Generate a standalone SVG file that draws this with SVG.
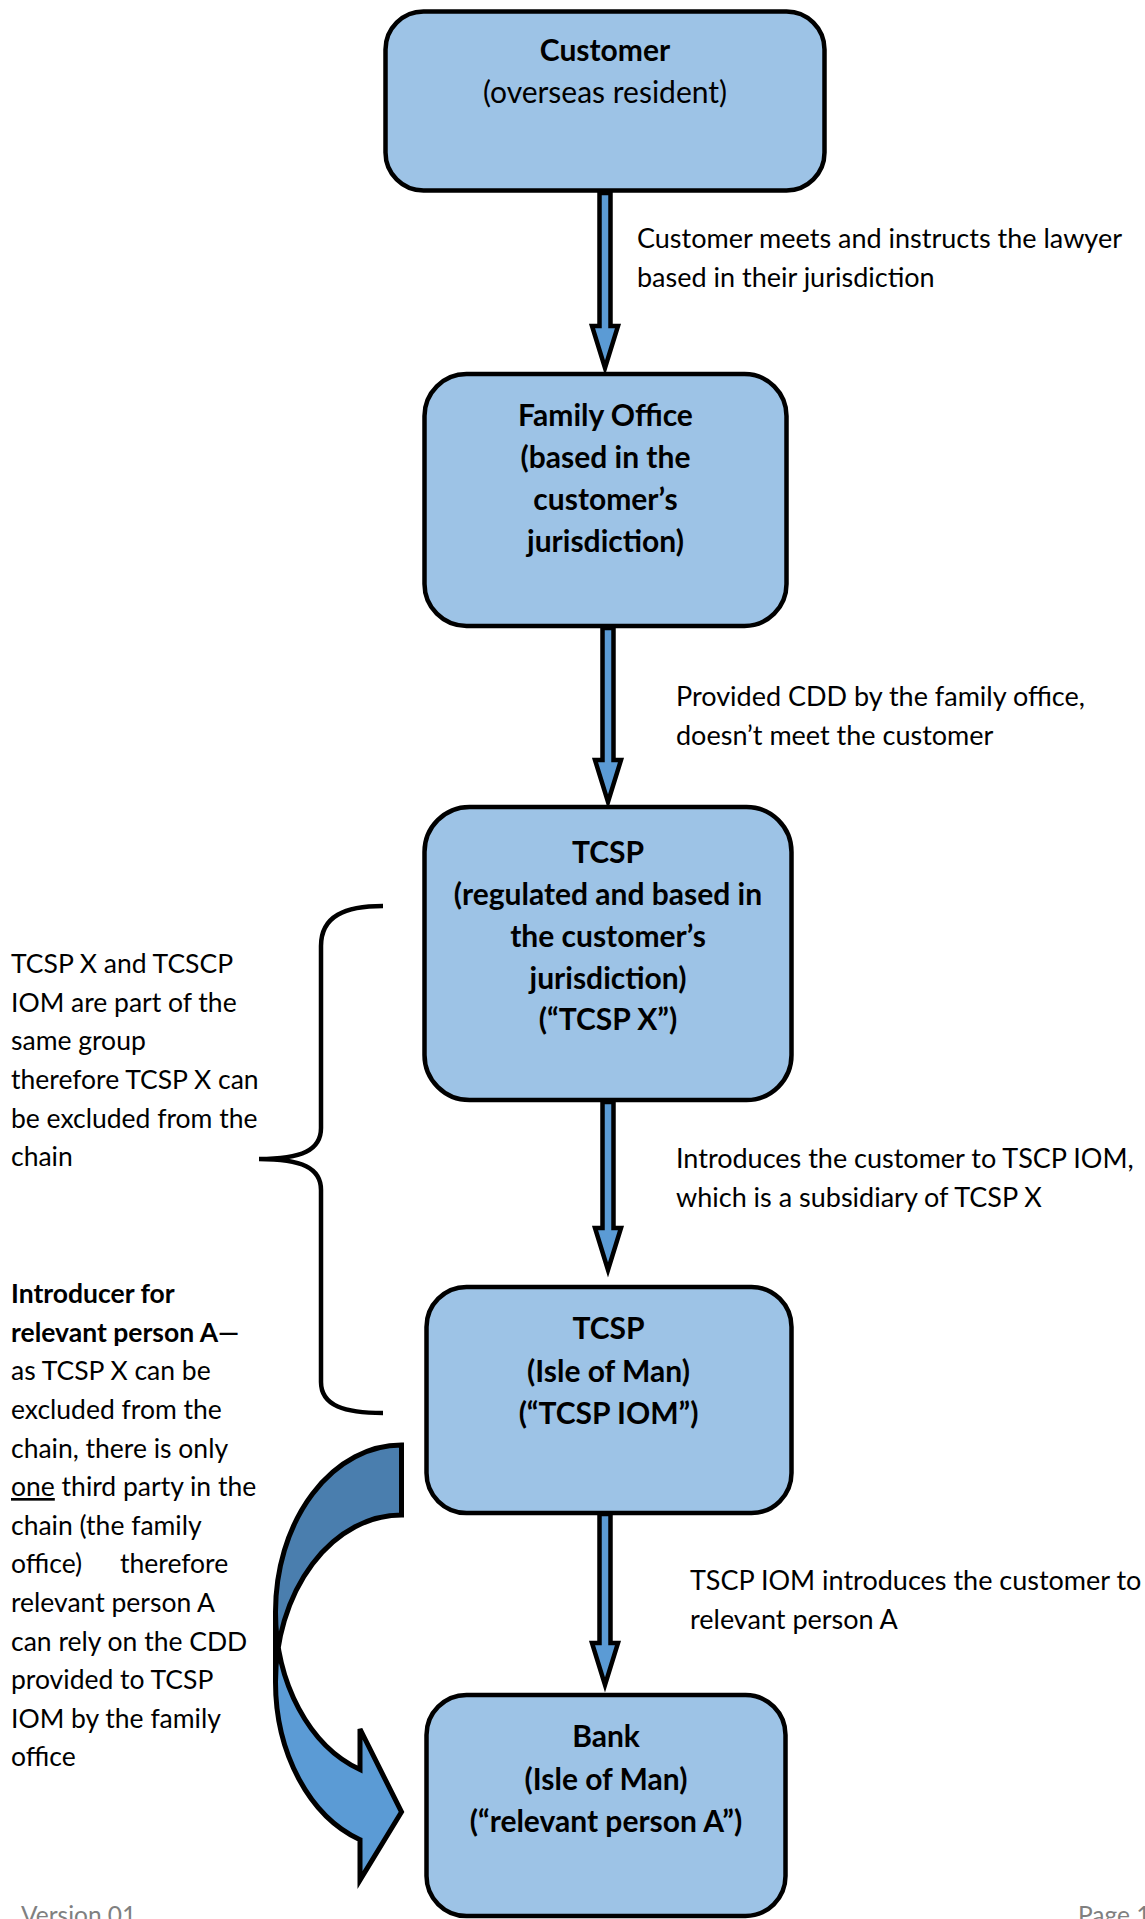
<svg xmlns="http://www.w3.org/2000/svg" width="1145" height="1919" viewBox="0 0 1145 1919">
<defs>
<style>
.box{fill:#9dc3e6;stroke:#000;stroke-width:4.5}
.t{font-family:Lato,"Liberation Sans",sans-serif;font-size:26.5px;fill:#000}
.l{font-size:27px}
.n{font-size:30px}
.b{font-weight:bold}
.c{text-anchor:middle}
.arr{fill:#5b9bd5;stroke:#000;stroke-width:4.5;stroke-linejoin:miter;stroke-miterlimit:10}
.brace{fill:none;stroke:#000;stroke-width:4.5}
.foot{font-family:Lato,"Liberation Sans",sans-serif;font-size:24.5px;fill:#808080}
</style>
</defs>
<rect width="1145" height="1919" fill="#fff"/>

<g id="connectors">
<path class="arr" d="M599.5,193 V326 H592 L605,368 L618,326 H610.5 V193 Z"/>
<path class="arr" d="M602.5,628 V760 H595 L608,802 L621,760 H613.5 V628 Z"/>
<path class="arr" d="M602.5,1102 V1228 H595 L608,1270 L621,1228 H613.5 V1102 Z"/>
<path class="arr" d="M599.5,1514 V1643 H592 L605,1685 L618,1643 H610.5 V1514 Z"/>
</g>

<g id="labels">
<text class="t l" x="637" y="248">Customer meets and instructs the lawyer</text>
<text class="t l" x="637" y="287">based in their jurisdiction</text>
<text class="t l" x="676" y="706">Provided CDD by the family office,</text>
<text class="t l" x="676" y="745">doesn’t meet the customer</text>
<text class="t l" x="676" y="1168">Introduces the customer to TSCP IOM,</text>
<text class="t l" x="676" y="1207">which is a subsidiary of TCSP X</text>
<text class="t l" x="690" y="1590">TSCP IOM introduces the customer to</text>
<text class="t l" x="690" y="1629">relevant person A</text>
</g>

<g id="customer">
<rect class="box" x="385.5" y="11.5" width="439" height="179" rx="38"/>
<text class="t n b c" x="605" y="61">Customer</text>
<text class="t n c" x="605" y="103">(overseas resident)</text>
</g>

<g id="family-office">
<rect class="box" x="424.5" y="374" width="362" height="252" rx="42"/>
<text class="t n b c" x="605.5" y="426">Family Office</text>
<text class="t n b c" x="605.5" y="468">(based in the</text>
<text class="t n b c" x="605.5" y="510">customer’s</text>
<text class="t n b c" x="605.5" y="552">jurisdiction)</text>
</g>

<g id="tcsp-x">
<rect class="box" x="424.5" y="807" width="367" height="293" rx="45"/>
<text class="t n b c" x="608" y="863">TCSP</text>
<text class="t n b c" x="608" y="905">(regulated and based in</text>
<text class="t n b c" x="608" y="947">the customer’s</text>
<text class="t n b c" x="608" y="989">jurisdiction)</text>
<text class="t n b c" x="608" y="1030">(“TCSP X”)</text>
</g>

<g id="tcsp-iom">
<rect class="box" x="426.5" y="1287" width="365" height="226" rx="40"/>
<text class="t n b c" x="608.5" y="1339">TCSP</text>
<text class="t n b c" x="608.5" y="1382">(Isle of Man)</text>
<text class="t n b c" x="608.5" y="1424">(“TCSP IOM”)</text>
</g>

<g id="bank">
<rect class="box" x="426.5" y="1695" width="359" height="221" rx="40"/>
<text class="t n b c" x="606" y="1747">Bank</text>
<text class="t n b c" x="606" y="1790">(Isle of Man)</text>
<text class="t n b c" x="606" y="1832">(“relevant person A”)</text>
</g>

<g id="brace-note">
<path class="brace" d="M383,906 C345,906 321,916 321,946 L321,1128 C321,1150 302,1159 259,1159 C302,1159 321,1168 321,1190 L321,1382 C321,1406 345,1413 383,1413"/>
<text class="t" x="11">
<tspan x="11" y="973">TCSP X and TCSCP</tspan>
<tspan x="11" y="1012">IOM are part of the</tspan>
<tspan x="11" y="1050">same group</tspan>
<tspan x="11" y="1089">therefore TCSP X can</tspan>
<tspan x="11" y="1128">be excluded from the</tspan>
<tspan x="11" y="1166">chain</tspan>
</text>
</g>

<g id="reliance-note">
<path d="M275.5,1612 A126,167 0 0 0 360,1769.6 L360,1729 L401.5,1812 L360,1880 L360,1839.7 A126,167 0 0 1 275.5,1682 Z" fill="#5b9bd5"/>
<path d="M401.5,1515 A126,167 0 0 0 275.5,1682 L275.5,1612 A126,167 0 0 1 401.5,1445 Z" fill="#4a7eae"/>
<path d="M275.5,1612 A126,167 0 0 0 360,1769.6 L360,1729 L401.5,1812 L360,1880 L360,1839.7 A126,167 0 0 1 275.5,1682 L275.5,1612 A126,167 0 0 1 401.5,1445 L401.5,1515 A126,167 0 0 0 275.5,1682" fill="none" stroke="#000" stroke-width="5" stroke-linejoin="miter"/>
<text class="t">
<tspan class="b" x="11" y="1303">Introducer for</tspan>
<tspan class="b" x="11" y="1342">relevant person A—</tspan>
<tspan x="11" y="1380">as TCSP X can be</tspan>
<tspan x="11" y="1419">excluded from the</tspan>
<tspan x="11" y="1458">chain, there is only</tspan>
<tspan x="11" y="1496" text-decoration="underline">one</tspan><tspan> third party in the</tspan>
<tspan x="11" y="1535">chain (the family</tspan>
<tspan x="11" y="1573">office)</tspan><tspan x="120" y="1573">therefore</tspan>
<tspan x="11" y="1612">relevant person A</tspan>
<tspan x="11" y="1651">can rely on the CDD</tspan>
<tspan x="11" y="1689">provided to TCSP</tspan>
<tspan x="11" y="1728">IOM by the family</tspan>
<tspan x="11" y="1766">office</tspan>
</text>
</g>

<g id="footer">
<text class="foot" x="21" y="1924">Version 01</text>
<text class="foot" x="1078" y="1924">Page 1</text>
</g>
</svg>
